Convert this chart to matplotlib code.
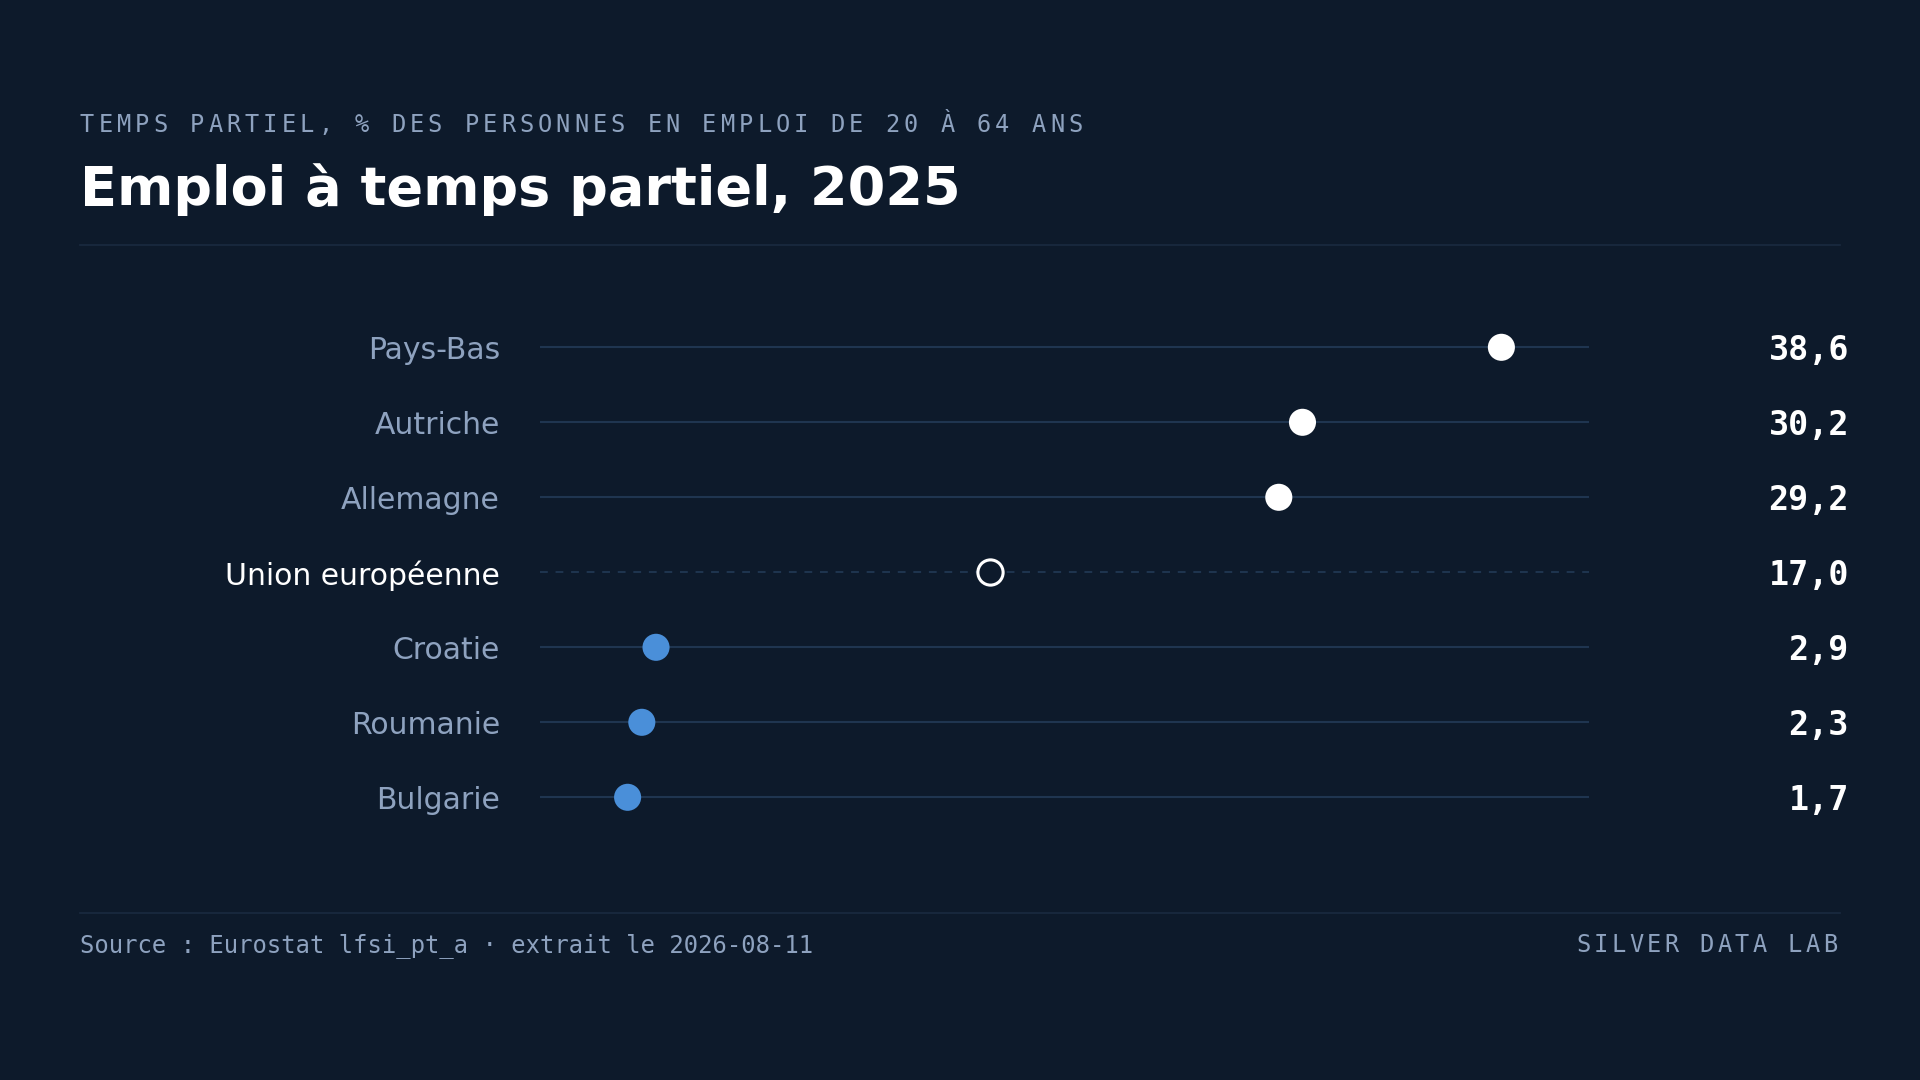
import matplotlib
matplotlib.use("Agg")
import matplotlib.pyplot as plt

# données (Eurostat lfsi_pt_a, 2025)
pays = ["Pays-Bas", "Autriche", "Allemagne", "Union européenne", "Croatie", "Roumanie", "Bulgarie"]
valeurs = [38.6, 30.2, 29.2, 17.0, 2.9, 2.3, 1.7]
etiquettes = ["38,6", "30,2", "29,2", "17,0", "2,9", "2,3", "1,7"]
ref = "Union européenne"

surtitre = "TEMPS PARTIEL, % DES PERSONNES EN EMPLOI DE 20 À 64 ANS"
titre = "Emploi à temps partiel, 2025"
source = "Source : Eurostat lfsi_pt_a · extrait le 2026-08-11"
signature = "SILVER DATA LAB"

BG = "#0d1a2b"
GRID = "#1f3550"
MUTED = "#8ea2bf"
BLUE = "#4a8fd9"
WHITE = "#ffffff"

W, H = 1920, 1080
fig = plt.figure(figsize=(19.2, 10.8), dpi=100, facecolor=BG)


def fx(x):
    return x / W


def fy(y):
    return 1 - y / H


def spaced(x, y, s, size, step, color, ha="left"):
    # texte monospace avec interlettrage
    adv = 0.602 * size * 100 / 72
    if ha == "right":
        x = x - (len(s) - 1) * step - adv
    for i, c in enumerate(s):
        fig.text(fx(x + i * step), fy(y), c, fontsize=size, color=color,
                 family="DejaVu Sans Mono", va="baseline", ha="left")


# en-tête
spaced(80, 132, surtitre, 17, 18.3, MUTED)
fig.text(fx(80), fy(205), titre, fontsize=39, fontweight="bold", color=WHITE,
         family="DejaVu Sans", va="baseline")
fig.add_artist(plt.Line2D([fx(80), fx(1840)], [fy(245), fy(245)], color="#1a2a40", lw=1.2))

# zone du graphique
ax = fig.add_axes([fx(540), fy(834.8), fx(1589 - 540), (836 - 311) / H])
ax.set_facecolor(BG)
ax.set_xlim(-2, 42.3)
ys = list(range(len(pays)))[::-1]
ax.set_ylim(-0.5, len(pays) - 0.5)
for s in ax.spines.values():
    s.set_visible(False)
ax.set_xticks([])
ax.set_yticks([])

for nom, v, lab, y in zip(pays, valeurs, etiquettes, ys):
    if nom == ref:
        ax.axhline(y, color=GRID, lw=1.4, ls=(0, (4, 4)), zorder=1)
        ax.scatter([v], [y], s=330, facecolor=BG, edgecolor=WHITE, linewidth=2.2, zorder=3)
        col = WHITE
    else:
        ax.axhline(y, color=GRID, lw=1.5, zorder=1)
        c = BLUE if v < 10 else WHITE
        ax.scatter([v], [y], s=380, color=c, edgecolor="none", zorder=3)
        col = MUTED
    ax.annotate(nom, xy=(fx(500), y), xycoords=("figure fraction", "data"),
                ha="right", va="center_baseline", fontsize=21.5, color=col,
                family="DejaVu Sans")
    ax.annotate(lab, xy=(fx(1849), y), xycoords=("figure fraction", "data"),
                ha="right", va="center_baseline", fontsize=24, fontweight="bold",
                color=WHITE, family="DejaVu Sans Mono")

# pied de page
fig.add_artist(plt.Line2D([fx(80), fx(1840)], [fy(913), fy(913)], color="#1a2a40", lw=1.2))
fig.text(fx(80), fy(952), source, fontsize=17.2, color=MUTED, family="DejaVu Sans Mono",
         va="baseline")
spaced(1837, 952, signature, 17, 17.6, MUTED, ha="right")

fig.savefig("out.png", dpi=100, facecolor=BG)
